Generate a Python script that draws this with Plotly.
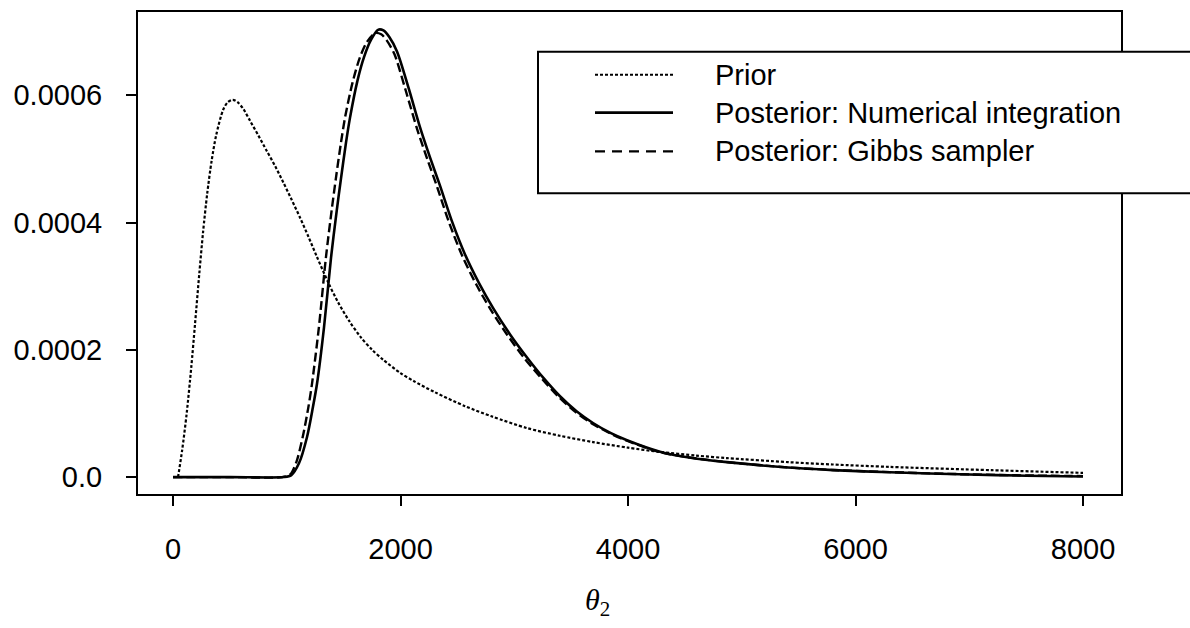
import plotly.graph_objects as go

# ---- data ----
prior_x = [44, 80, 120, 160, 193, 231, 264, 300, 340, 380, 440, 480, 525, 570, 620,
           677, 750, 823, 900, 970, 1040, 1116, 1190, 1263, 1369, 1450, 1550, 1650,
           1750, 1850, 2000, 2115, 2300, 2567, 2800, 3112, 3400, 3692, 4000, 4281,
           4600, 4870, 5406, 5800, 6302, 7200, 8000]
prior_y = [0.0, 4.2e-5, 1.0e-4, 1.72e-4, 2.4e-4, 3.2e-4, 3.85e-4, 4.45e-4, 4.98e-4,
           5.38e-4, 5.77e-4, 5.89e-4, 5.93e-4, 5.89e-4, 5.78e-4, 5.6e-4, 5.37e-4,
           5.13e-4, 4.88e-4, 4.63e-4, 4.37e-4, 4.08e-4, 3.78e-4, 3.47e-4, 3.04e-4,
           2.75e-4, 2.45e-4, 2.2e-4, 2.0e-4, 1.84e-4, 1.635e-4, 1.51e-4, 1.335e-4,
           1.115e-4, 9.55e-5, 7.7e-5, 6.5e-5, 5.5e-5, 4.62e-5, 3.95e-5, 3.38e-5,
           2.98e-5, 2.35e-5, 1.98e-5, 1.6e-5, 1.08e-5, 6.6e-6]

num_x = [0, 500, 975, 1040, 1108, 1178, 1230, 1266, 1327, 1389, 1440, 1477, 1520,
         1556, 1620, 1679, 1740, 1802, 1850, 1900, 1969, 2070, 2171, 2260, 2347,
         2450, 2567, 2690, 2813, 2960, 3112, 3260, 3402, 3550, 3692, 3850, 3991,
         4281, 4550, 4870, 5406, 5800, 6302, 7000, 7500, 8000]
num_y = [0.0, 0.0, 0.0, 3e-6, 2.2e-5, 6.3e-5, 1.1e-4, 1.47e-4, 2.35e-4, 3.45e-4,
         4.2e-4, 4.7e-4, 5.25e-4, 5.65e-4, 6.22e-4, 6.6e-4, 6.87e-4, 7.03e-4,
         7.02e-4, 6.92e-4, 6.69e-4, 6.12e-4, 5.5e-4, 5.02e-4, 4.58e-4, 4.03e-4,
         3.5e-4, 3.05e-4, 2.66e-4, 2.25e-4, 1.88e-4, 1.55e-4, 1.27e-4, 1.03e-4,
         8.5e-5, 6.9e-5, 5.8e-5, 4.0e-5, 3.05e-5, 2.35e-5, 1.5e-5, 1.1e-5, 7.5e-6,
         4e-6, 2.2e-6, 8e-7]

gibbs_x = [0, 500, 960, 1030, 1085, 1140, 1190, 1222, 1282, 1344, 1395, 1432, 1476,
           1512, 1578, 1640, 1705, 1779, 1830, 1880, 1946, 2045, 2146, 2235, 2322,
           2425, 2542, 2665, 2790, 2940, 3092, 3245, 3390, 3540, 3685, 3845, 3985,
           4275, 4550, 4870, 5406, 5800, 6302, 7000, 7500, 8000]
gibbs_y = [0.0, 0.0, 0.0, 4e-6, 2.4e-5, 6.3e-5, 1.1e-4, 1.47e-4, 2.35e-4, 3.45e-4,
           4.2e-4, 4.7e-4, 5.25e-4, 5.65e-4, 6.2e-4, 6.58e-4, 6.84e-4, 6.98e-4,
           6.96e-4, 6.86e-4, 6.65e-4, 6.08e-4, 5.47e-4, 5.0e-4, 4.56e-4, 4.01e-4,
           3.48e-4, 3.03e-4, 2.64e-4, 2.23e-4, 1.86e-4, 1.54e-4, 1.26e-4, 1.02e-4,
           8.4e-5, 6.85e-5, 5.75e-5, 3.95e-5, 3.05e-5, 2.35e-5, 1.52e-5, 1.12e-5,
           7.8e-6, 4.2e-6, 2.6e-6, 1.5e-6]

x_ticks = [0, 2000, 4000, 6000, 8000]
x_tick_labels = ["0", "2000", "4000", "6000", "8000"]
y_ticks = [0.0, 0.0002, 0.0004, 0.0006]
y_tick_labels = ["0.0", "0.0002", "0.0004", "0.0006"]

legend_names = ["Prior", "Posterior: Numerical integration", "Posterior: Gibbs sampler"]

SANS = "Liberation Sans, Arial, Helvetica, sans-serif"
DOT = "3px,2px"
DASH = "9px,4px"

fig = go.Figure()
fig.add_trace(go.Scatter(x=prior_x, y=prior_y, mode="lines", name=legend_names[0],
                         line=dict(color="black", width=2.2, dash=DOT, shape="spline", smoothing=0.8)))
fig.add_trace(go.Scatter(x=num_x, y=num_y, mode="lines", name=legend_names[1],
                         line=dict(color="black", width=2.6, shape="spline", smoothing=0.8)))
fig.add_trace(go.Scatter(x=gibbs_x, y=gibbs_y, mode="lines", name=legend_names[2],
                         line=dict(color="black", width=2.4, dash=DASH, shape="spline", smoothing=0.8)))

W, H = 1190, 628
L, R, T, B = 138, 69, 10, 134
pw, ph = W - L - R, H - T - B


def px_x(p):
    return (p - L) / pw


def px_y(p):
    return (H - B - p) / ph


shapes = []
annotations = []
# legend box (extends past the right edge as in the reference)
shapes.append(dict(type="rect", xref="paper", yref="paper",
                   x0=px_x(538), x1=px_x(1205), y0=px_y(192), y1=px_y(50),
                   line=dict(color="black", width=2), fillcolor="white", layer="above"))
row_y = [73, 111, 150]
dashes = [DOT, "solid", "10px,7px"]
widths = [2.2, 2.6, 2.4]
for name, ry, d, w in zip(legend_names, row_y, dashes, widths):
    shapes.append(dict(type="line", xref="paper", yref="paper",
                       x0=px_x(595), x1=px_x(673), y0=px_y(ry), y1=px_y(ry),
                       line=dict(color="black", width=w, dash=d), layer="above"))
    annotations.append(dict(x=px_x(713), y=px_y(ry), xref="paper", yref="paper",
                            text=name, showarrow=False, xanchor="left", yanchor="middle",
                            font=dict(family=SANS, size=29, color="black")))

annotations.append(dict(x=px_x(597), y=px_y(602), xref="paper", yref="paper",
                        text="<i>θ</i><sub>2</sub>", showarrow=False,
                        xanchor="center", yanchor="middle",
                        font=dict(family="Liberation Serif, Times New Roman, serif", size=30, color="black")))

fig.update_layout(
    width=W, height=H,
    margin=dict(l=L, r=R, t=T, b=B),
    paper_bgcolor="white", plot_bgcolor="white",
    showlegend=False,
    shapes=shapes, annotations=annotations,
    font=dict(family=SANS, color="black"),
)
fig.update_xaxes(range=[-308, 8334], tickvals=x_ticks, ticktext=x_tick_labels,
                 showgrid=False, zeroline=False, showline=True, mirror=True,
                 linecolor="black", linewidth=2, ticks="outside", ticklen=10,
                 tickwidth=2, tickcolor="black", ticklabelstandoff=18,
                 tickfont=dict(family=SANS, size=29, color="black"))
fig.update_yaxes(range=[-2.66e-5, 7.31e-4], tickvals=y_ticks, ticktext=y_tick_labels,
                 showgrid=False, zeroline=False, showline=True, mirror=True,
                 linecolor="black", linewidth=2, ticks="outside", ticklen=10,
                 tickwidth=2, tickcolor="black", ticklabelstandoff=18,
                 tickfont=dict(family=SANS, size=29, color="black"))

fig.write_html("out.html")
